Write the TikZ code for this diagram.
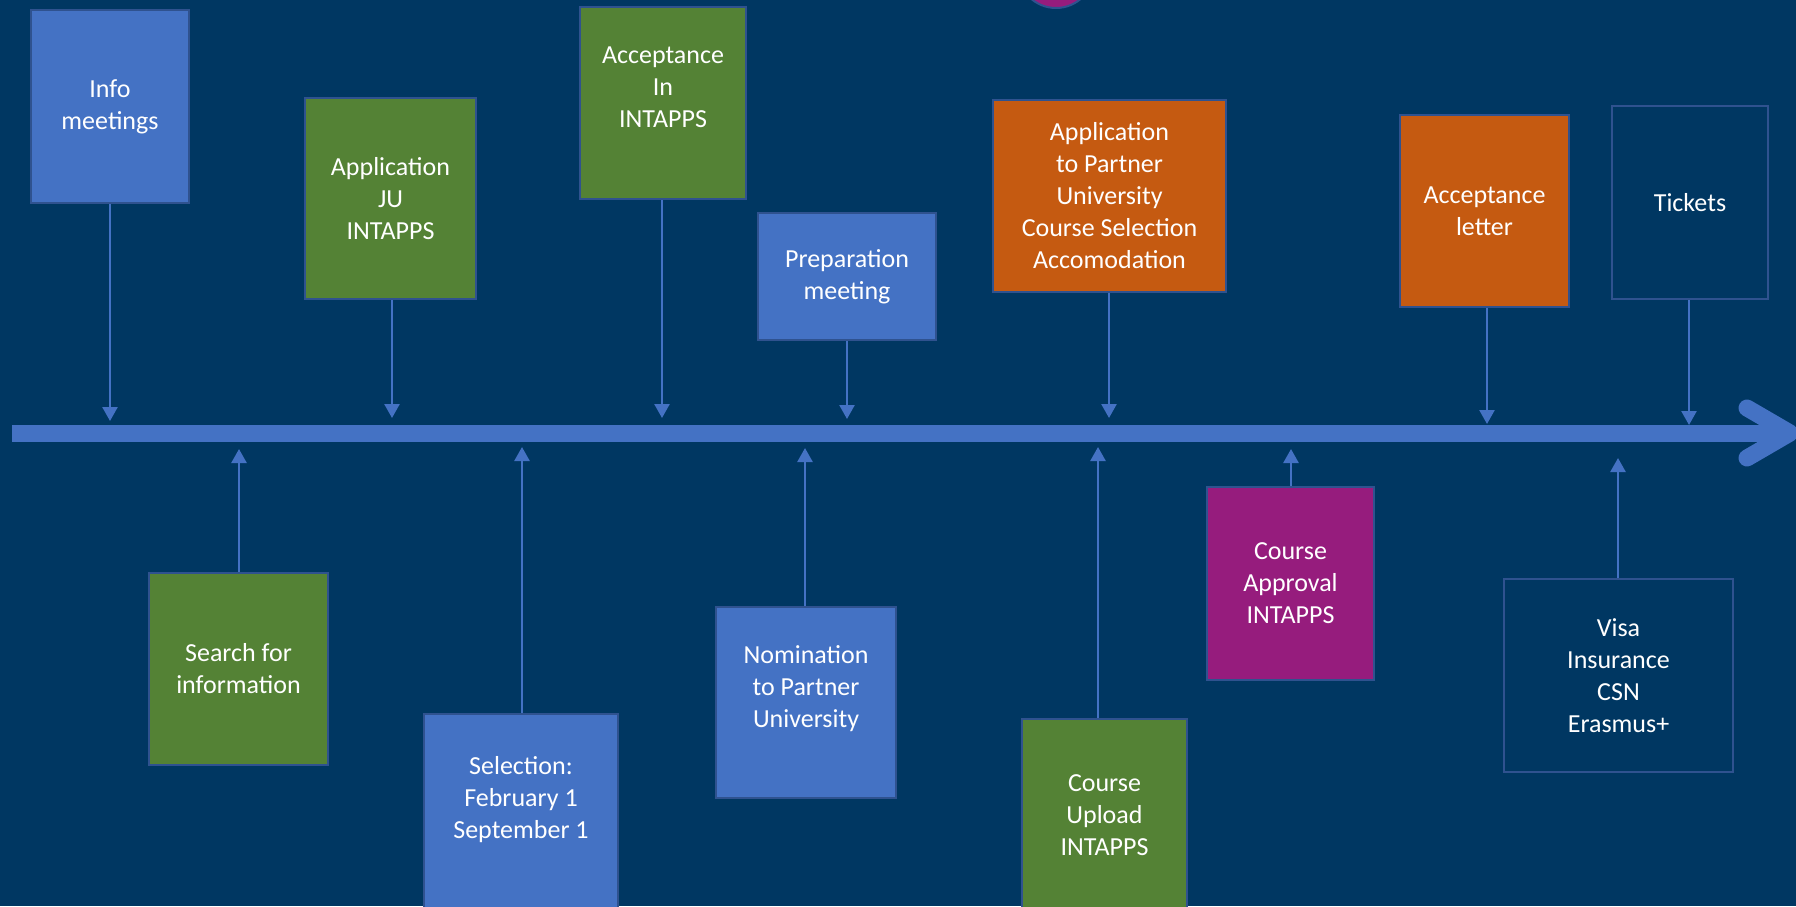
\documentclass[tikz,border=0pt]{standalone}
\usepackage{fontspec}
\setmainfont{Carlito}
\usetikzlibrary{arrows.meta}
\definecolor{navy}{RGB}{0,55,98}
\definecolor{boxblue}{RGB}{68,114,196}
\definecolor{boxgreen}{RGB}{84,130,53}
\definecolor{boxorange}{RGB}{197,90,17}
\definecolor{boxpurple}{RGB}{150,28,125}
\definecolor{edgeblue}{RGB}{47,82,143}
\begin{document}
\begin{tikzpicture}
[x=1pt,y=-1pt,
  stepdecorate/.style={shape=rectangle,draw=edgeblue,line width=2pt,text=white,%
    align=center,inner sep=0pt,font=\fontsize{26}{32}\selectfont},%
  linedecorate/.style={draw=boxblue,line width=2.5pt,-{Triangle[width=15pt,length=14pt]}},%
  axisdecorate/.style={draw=boxblue,line width=17pt}]
%% background
\fill[navy] (0,0) rectangle (1796,906);
\useasboundingbox (0,0) rectangle (1796,906);
\clip (0,0) rectangle (1796,906);
\draw[fill=boxpurple,draw=edgeblue,line width=2pt] (1056,-30) circle (38pt);
%% time axis
\draw[axisdecorate] (12,433) -- (1788,433);
\draw[axisdecorate,line cap=round,line join=round] (1747,408) -- (1790,433) -- (1747,458);
%% nodes or steps
\foreach \nodename/\x/\y/\w/\h/\fillcol/\txt in {
  info/110/106.5/158/193/boxblue/{Info\\meetings},
  appju/390.5/198.5/171/201/boxgreen/{Application\\JU\\INTAPPS},
  accin/663/103/166/192/boxgreen/{Acceptance\\In\\INTAPPS\\\mbox{}},
  prep/847/276.5/178/127/boxblue/{Preparation\\meeting},
  apppu/1109.5/196/233/192/boxorange/{Application\\to Partner\\University\\Course Selection\\Accomodation},
  acclet/1484.5/211/169/192/boxorange/{Acceptance\\letter},
  tickets/1690/202.5/156/193/navy/{Tickets},
  search/238.5/669/179/192/boxgreen/{Search for\\information},
  select/521/813/194/198/boxblue/{Selection:\\February 1\\September 1\\\mbox{}},
  nomin/806/702.5/180/191/boxblue/{Nomination\\to Partner\\University\\\mbox{}},
  upload/1104.5/815.5/165/193/boxgreen/{Course\\Upload\\INTAPPS},
  approv/1290.5/583.5/167/193/boxpurple/{Course\\Approval\\INTAPPS},
  visa/1618.5/675.5/229/193/navy/{Visa\\Insurance\\CSN\\Erasmus+}}
{
  \node[stepdecorate,fill=\fillcol,minimum width=\w pt,minimum height=\h pt] (\nodename) at (\x,\y) {\txt};
}
%% connectors to the axis
\foreach \nodename/\navigate/\x/\y in {
  info/south/110/421, appju/south/392/418, accin/south/662/418,
  prep/south/847/419, apppu/south/1109/418, acclet/south/1487/424,
  tickets/south/1689/425, search/north/239/449, select/north/522/447,
  nomin/north/805/448, upload/north/1098/447, approv/north/1291/449,
  visa/north/1618/458}
{
  \coordinate (\nodename-t) at (\x,\y);
  \draw[linedecorate] (\nodename-t |- \nodename.\navigate) -- (\nodename-t);
}
\end{tikzpicture}
\end{document}
